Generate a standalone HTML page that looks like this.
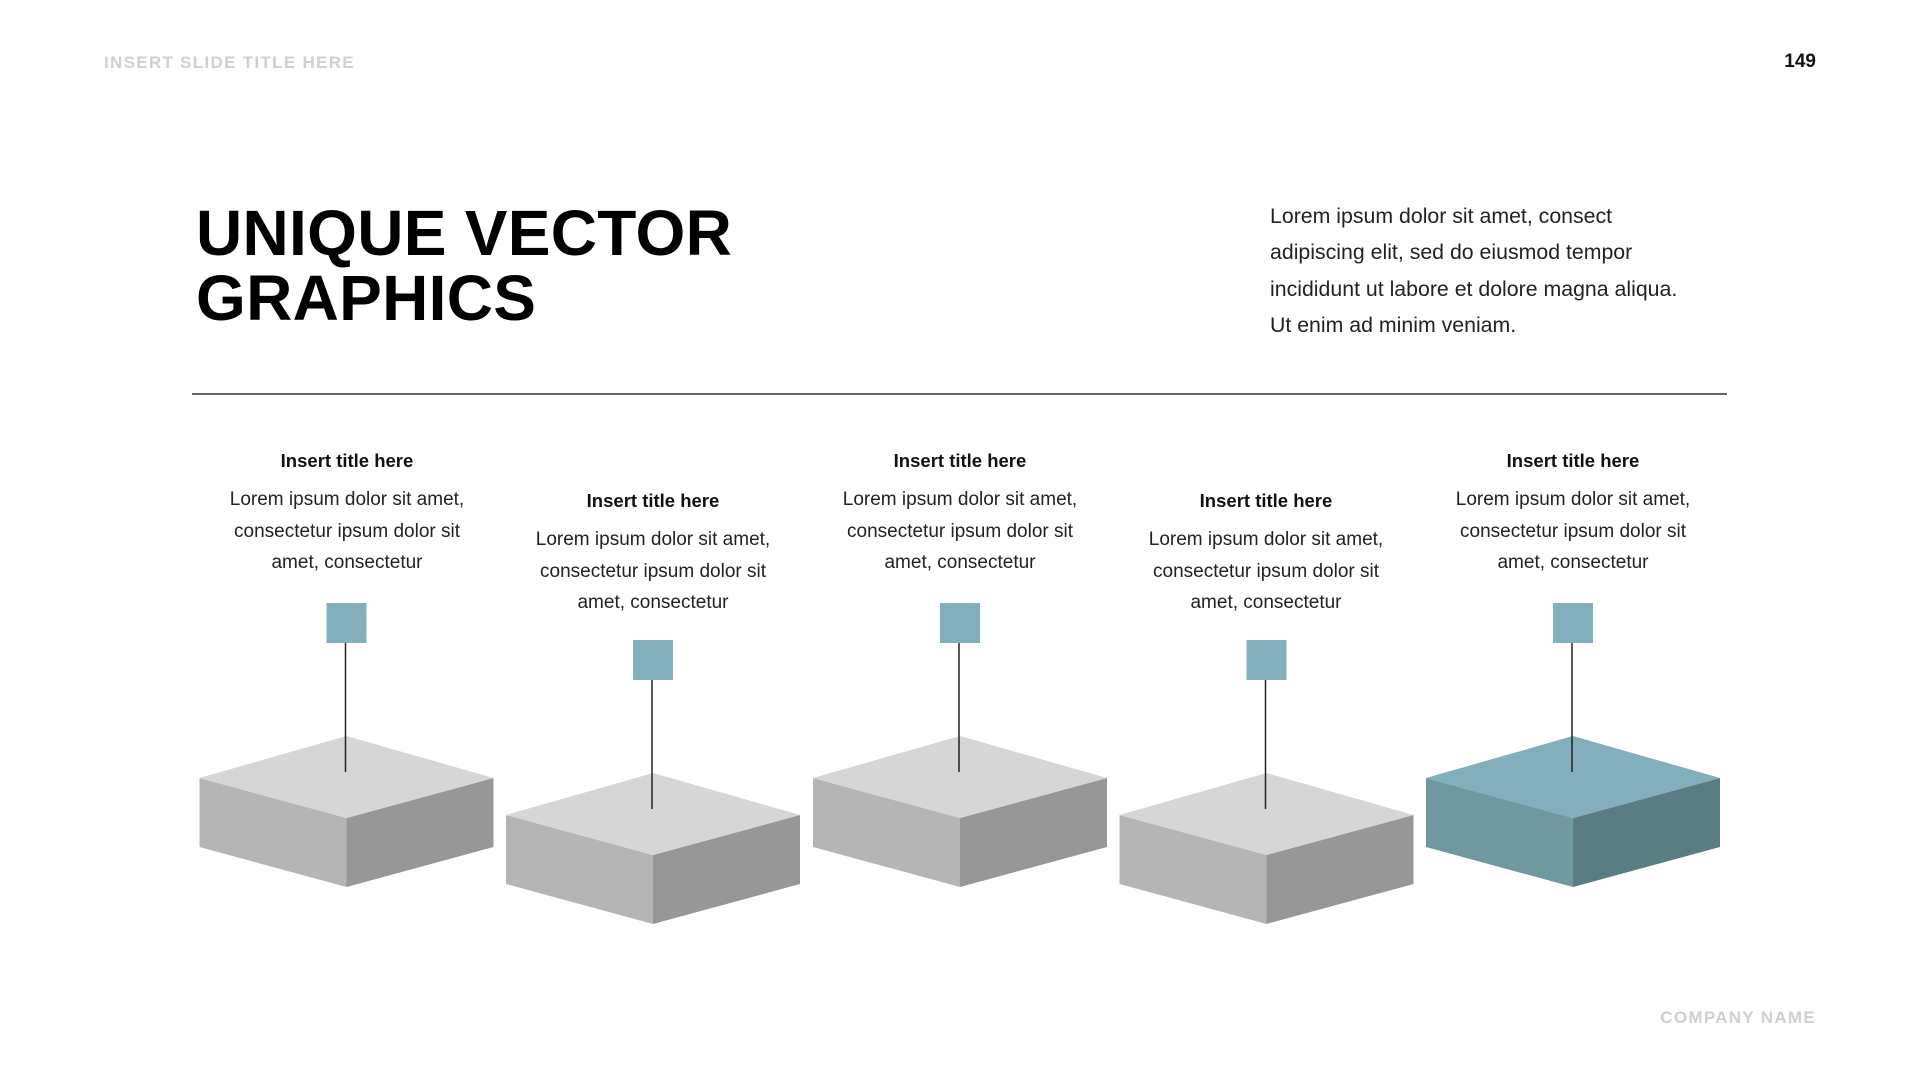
<!DOCTYPE html>
<html><head><meta charset="utf-8"><style>
body{margin:0;width:1920px;height:1080px;background:#fff;position:relative;overflow:hidden;font-family:"Liberation Sans",sans-serif}
.a{position:absolute}
.col{position:absolute;width:320px;text-align:center;color:#222;font-size:19px}
.col b{display:block;color:#111;font-size:18.5px;margin-bottom:12px}
.col div{line-height:31.5px}
</style></head><body>
<div class="a" style="left:104px;top:53px;font-size:17px;font-weight:bold;color:#cfcfcf;letter-spacing:1.3px">INSERT SLIDE TITLE HERE</div>
<div class="a" style="right:104px;top:51px;font-size:19px;font-weight:bold;color:#111">149</div>
<div class="a" style="left:196px;top:201px;font-size:64px;font-weight:bold;line-height:65px;color:#000;letter-spacing:0.3px">UNIQUE VECTOR<br>GRAPHICS</div>
<div class="a" style="left:1270px;top:198px;font-size:21.3px;line-height:36.3px;color:#222">Lorem ipsum dolor sit amet, consect<br>adipiscing elit, sed do eiusmod tempor<br>incididunt ut labore et dolore magna aliqua.<br>Ut enim ad minim veniam.</div>
<div class="a" style="left:192px;top:393px;width:1535px;height:2px;background:#666"></div>
<div class="a" style="right:104px;top:1008px;font-size:17px;font-weight:bold;color:#cfcfcf;letter-spacing:1.3px">COMPANY NAME</div>

<div class="col" style="left:187px;top:450px"><b>Insert title here</b><div>Lorem ipsum dolor sit amet,<br>consectetur ipsum dolor sit<br>amet, consectetur</div></div>
<div class="col" style="left:493px;top:490px"><b>Insert title here</b><div>Lorem ipsum dolor sit amet,<br>consectetur ipsum dolor sit<br>amet, consectetur</div></div>
<div class="col" style="left:800px;top:450px"><b>Insert title here</b><div>Lorem ipsum dolor sit amet,<br>consectetur ipsum dolor sit<br>amet, consectetur</div></div>
<div class="col" style="left:1106px;top:490px"><b>Insert title here</b><div>Lorem ipsum dolor sit amet,<br>consectetur ipsum dolor sit<br>amet, consectetur</div></div>
<div class="col" style="left:1413px;top:450px"><b>Insert title here</b><div>Lorem ipsum dolor sit amet,<br>consectetur ipsum dolor sit<br>amet, consectetur</div></div>

<svg class="a" style="left:0;top:0" width="1920" height="1080">
<g transform="translate(346.5,0)">
<polygon points="-147,778 0,818 0,887 -147,847" fill="#b5b5b5"/>
<polygon points="147,778 0,818 0,887 147,847" fill="#979797"/>
<polygon points="0,736 147,778 0,818 -147,778" fill="#d6d6d6"/>
<rect x="-20" y="603" width="40" height="40" fill="#82afbb"/>
<line x1="-1" y1="643" x2="-1" y2="772" stroke="#222" stroke-width="1.5"/>
</g>
<g transform="translate(653,37)">
<polygon points="-147,778 0,818 0,887 -147,847" fill="#b5b5b5"/>
<polygon points="147,778 0,818 0,887 147,847" fill="#979797"/>
<polygon points="0,736 147,778 0,818 -147,778" fill="#d6d6d6"/>
<rect x="-20" y="603" width="40" height="40" fill="#82afbb"/>
<line x1="-1" y1="643" x2="-1" y2="772" stroke="#222" stroke-width="1.5"/>
</g>
<g transform="translate(960,0)">
<polygon points="-147,778 0,818 0,887 -147,847" fill="#b5b5b5"/>
<polygon points="147,778 0,818 0,887 147,847" fill="#979797"/>
<polygon points="0,736 147,778 0,818 -147,778" fill="#d6d6d6"/>
<rect x="-20" y="603" width="40" height="40" fill="#82afbb"/>
<line x1="-1" y1="643" x2="-1" y2="772" stroke="#222" stroke-width="1.5"/>
</g>
<g transform="translate(1266.5,37)">
<polygon points="-147,778 0,818 0,887 -147,847" fill="#b5b5b5"/>
<polygon points="147,778 0,818 0,887 147,847" fill="#979797"/>
<polygon points="0,736 147,778 0,818 -147,778" fill="#d6d6d6"/>
<rect x="-20" y="603" width="40" height="40" fill="#82afbb"/>
<line x1="-1" y1="643" x2="-1" y2="772" stroke="#222" stroke-width="1.5"/>
</g>
<g transform="translate(1573,0)">
<polygon points="-147,778 0,818 0,887 -147,847" fill="#6f98a1"/>
<polygon points="147,778 0,818 0,887 147,847" fill="#5a7c83"/>
<polygon points="0,736 147,778 0,818 -147,778" fill="#82afbb"/>
<rect x="-20" y="603" width="40" height="40" fill="#82afbb"/>
<line x1="-1" y1="643" x2="-1" y2="772" stroke="#222" stroke-width="1.5"/>
</g>
</svg>
</body></html>
